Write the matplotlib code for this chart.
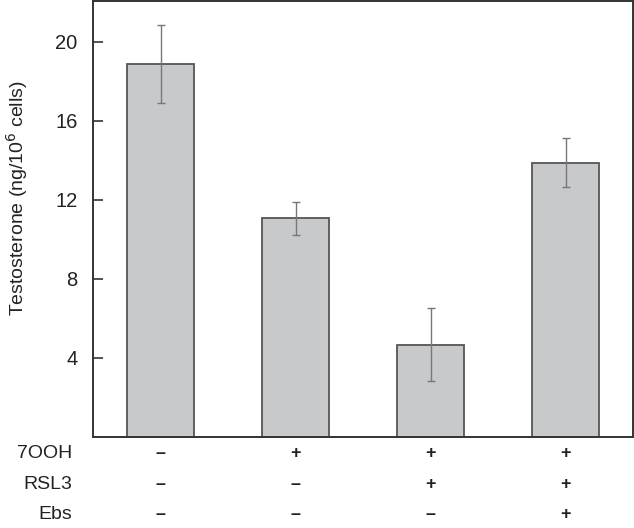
import matplotlib
matplotlib.use("Agg")
import matplotlib.pyplot as plt

plt.rcParams['font.family'] = ['Liberation Sans', 'DejaVu Sans']

# data
means = [18.86, 11.07, 4.67, 13.87]
errs = [1.97, 0.83, 1.83, 1.24]
row_names = ['7OOH', 'RSL3', 'Ebs']
signs = [
    ['–', '+', '+', '+'],
    ['–', '–', '+', '+'],
    ['–', '–', '–', '+'],
]
yticks = [4, 8, 12, 16, 20]

fig = plt.figure(figsize=(6.34, 5.28), dpi=100)
ax = fig.add_axes([93 / 634, 91 / 528, 540 / 634, 436 / 528])

x = range(len(means))
ax.bar(x, means, width=0.5, color='#c8c9cb', edgecolor='#555555', linewidth=1.3, zorder=2)
ax.errorbar(x, means, yerr=errs, fmt='none', ecolor='#777777', elinewidth=1.0,
            capsize=3, capthick=1.0, zorder=3)

ax.set_xlim(-0.5, 3.5)
ax.set_ylim(0, 22.05)
ax.set_xticks([])
ax.set_yticks(yticks)
ax.set_yticklabels([str(t) for t in yticks], fontsize=14.5, color='#222222')
ax.tick_params(axis='y', direction='in', length=7, width=1.2, color='#333333', pad=11)
for s in ax.spines.values():
    s.set_linewidth(1.4)
    s.set_color('#333333')

ax.set_ylabel('Testosterone (ng/10$^{6}$ cells)', fontsize=14, color='#222222')
ax.yaxis.set_label_coords(-0.116, 0.548)

# treatment table under the axis
row_y = [-0.037, -0.108, -0.177]
for name, ry, row in zip(row_names, row_y, signs):
    ax.text(-0.039, ry, name, transform=ax.transAxes, ha='right', va='center',
            fontsize=14, color='#222222')
    for xi, sg in zip(x, row):
        ax.text(xi, ry, sg, transform=ax.get_xaxis_transform(), ha='center', va='center',
                fontsize=13, fontweight='bold', color='#222222')

fig.savefig('out.png', dpi=100)
